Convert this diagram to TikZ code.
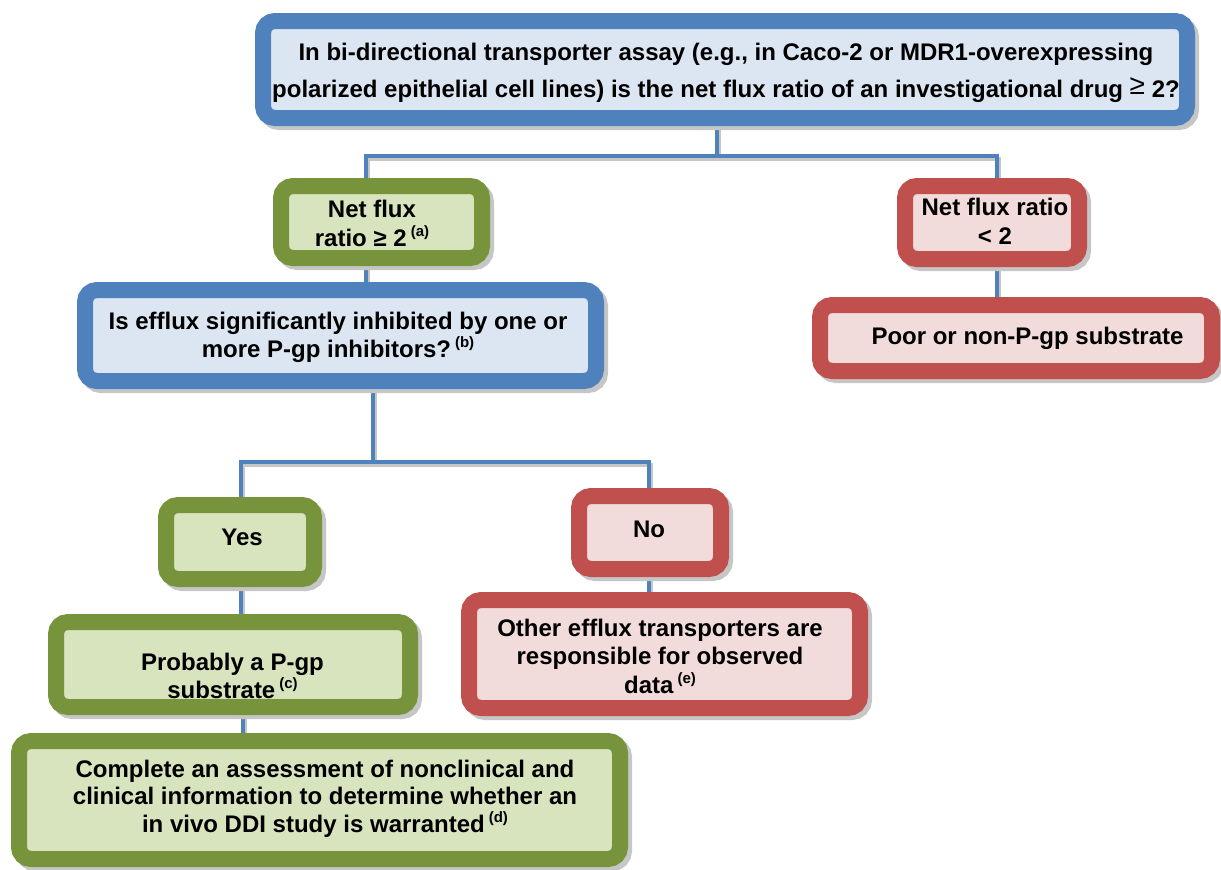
\documentclass[tikz,border=0pt]{standalone}
\usepackage{fontspec}
\setmainfont{Liberation Sans}
\usetikzlibrary{backgrounds}
\definecolor{bdB}{HTML}{4F81BD}
\definecolor{flB}{HTML}{DCE6F2}
\definecolor{bdG}{HTML}{77933C}
\definecolor{flG}{HTML}{D7E4BD}
\definecolor{bdR}{HTML}{C0504D}
\definecolor{flR}{HTML}{F2DCDB}
\definecolor{shd}{HTML}{C6C6C6}
\definecolor{cn}{HTML}{4F81BD}
\newcommand{\fsup}[1]{\hspace{4pt}\smash{\raisebox{10pt}{\fontsize{15}{15}\selectfont(#1)}}}
\begin{document}
\begin{tikzpicture}[x=1pt,y=-1pt,
  box/.style={rounded corners=12pt, line width=16pt, inner sep=0pt,
    preaction={draw=shd, fill=shd, line width=16pt, transform canvas={xshift=4pt,yshift=-4pt}}},
  bluebox/.style={box, draw=bdB, fill=flB},
  greenbox/.style={box, draw=bdG, fill=flG},
  redbox/.style={box, draw=bdR, fill=flR},
  txt/.style={inner sep=0pt, align=center, text=black, font=\fontsize{24}{#1}\selectfont\bfseries},
  txt/.default=29,
  conn/.style={draw=cn, line width=4.5pt,
    preaction={draw=shd, line width=4pt, transform canvas={xshift=2pt,yshift=-3pt}}}
]
\useasboundingbox (0,0) rectangle (1221,870);

% boxes (outer extents measured, path = outer - 8 on each side)
\node[bluebox,  minimum width=924pt, minimum height=97pt]  (top)   at (725,69.5) {};
\node[greenbox, minimum width=201pt, minimum height=72pt]  (gt)    at (381.5,222) {};
\node[redbox,   minimum width=174pt, minimum height=73pt]  (lt)    at (992,222.5) {};
\node[bluebox,  minimum width=511pt, minimum height=91pt]  (inh)   at (340.5,335.5) {};
\node[redbox,   minimum width=392pt, minimum height=66pt]  (poor)  at (1016,338) {};
\node[greenbox, minimum width=148pt, minimum height=74pt]  (yes)   at (240,542) {};
\node[redbox,   minimum width=142pt, minimum height=73pt]  (no)    at (650,532.5) {};
\node[greenbox, minimum width=354pt, minimum height=85pt]  (prob)  at (233,664.5) {};
\node[redbox,   minimum width=391pt, minimum height=108pt] (other) at (664.5,654) {};
\node[greenbox, minimum width=601pt, minimum height=118pt] (comp)  at (319.5,800) {};

% texts
\node[txt=37] (toptxt) at (726,71.1) {\strut In bi-directional transporter assay (e.g., in Caco-2 or MDR1-overexpressing\\polarized epithelial cell lines) is the net flux ratio of an investigational drug {\mdseries\fontsize{28}{28}\selectfont\raisebox{3pt}{≥}} 2?\strut};
\node[txt] (gttxt) at (372,225.7) {\strut Net flux\\ratio ≥ 2\fsup{a}\strut};
\node[txt] (lttxt) at (995,223.7) {\strut Net flux ratio\\< 2\strut};
\node[txt=28] (inhtxt) at (338,337.4) {\strut Is efflux significantly inhibited by one or\\more P-gp inhibitors?\fsup{b}\strut};
\node[txt] (poortxt) at (1027.5,338.2) {\strut Poor or non-P-gp substrate\strut};
\node[txt] (yestxt) at (242,539.2) {\strut Yes\strut};
\node[txt] (notxt) at (649,531.2) {\strut No\strut};
\node[txt=28] (probtxt) at (232.5,678.4) {\strut Probably a P-gp\\substrate\fsup{c}\strut};
\node[txt=28.5] (othertxt) at (660,658.8) {\strut Other efflux transporters are\\responsible for observed\\data\fsup{e}\strut};
\node[txt=27.5] (comptxt) at (325,799) {\strut Complete an assessment of nonclinical and\\clinical information to determine whether an\\in vivo DDI study is warranted\fsup{d}\strut};

% connector junctions
\coordinate (j0) at (717,156);
\coordinate (jl) at (366,156);
\coordinate (jr) at (997,156);
\coordinate (k0) at (373,462);
\coordinate (kl) at (241,462);
\coordinate (kr) at (649,462);
\coordinate (m1) at (366,0);
\coordinate (m2) at (997,0);
\coordinate (m3) at (241,0);
\coordinate (m4) at (649,0);
\coordinate (m5) at (243,0);

\begin{scope}[on background layer]
\draw[conn] (j0 |- top.south) -- (j0);
\draw[conn] (jl |- gt.north) -- (jl) -- (jr) -- (jr |- lt.north);
\draw[conn] (m1 |- gt.south) -- (m1 |- inh.north);
\draw[conn] (m2 |- lt.south) -- (m2 |- poor.north);
\draw[conn] (k0 |- inh.south) -- (k0);
\draw[conn] (kl |- yes.north) -- (kl) -- (kr) -- (kr |- no.north);
\draw[conn] (m3 |- yes.south) -- (m3 |- prob.north);
\draw[conn] (m4 |- no.south) -- (m4 |- other.north);
\draw[conn] (m5 |- prob.south) -- (m5 |- comp.north);
\end{scope}
\end{tikzpicture}
\end{document}
